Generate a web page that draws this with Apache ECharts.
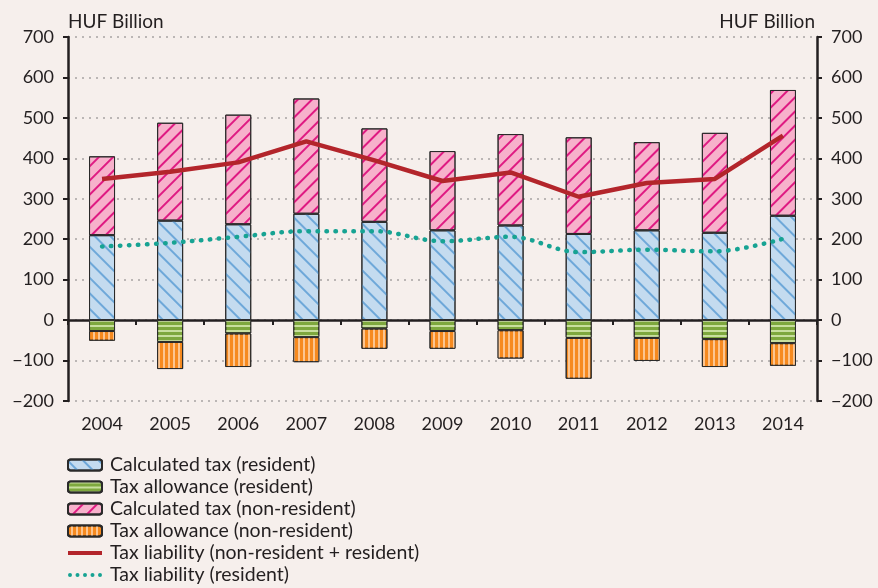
<!DOCTYPE html>
<html>
<head>
<meta charset="utf-8">
<script src="https://cdn.jsdelivr.net/npm/echarts@6/dist/echarts.min.js"></script>
<style>
  html, body { margin: 0; padding: 0; background: #f6efec; }
  #chart { width: 878px; height: 588px; }
</style>
</head>
<body>
<div id="chart"></div>
<script>
var years = ['2004', '2005', '2006', '2007', '2008', '2009', '2010', '2011', '2012', '2013', '2014'];
var calcResident = [210, 246, 237, 263, 243, 222, 234, 213, 222, 216, 258];
var allowResident = [-27, -54, -33, -42, -21, -27, -25, -44, -44, -47, -57];
var calcNonResident = [195, 242, 271, 285, 231, 196, 226, 239, 218, 247, 311];
var allowNonResident = [-24, -67, -83, -62, -50, -44, -70, -101, -57, -69, -56];
var liabilityTotal = [349, 367, 390, 442, 395, 344, 365, 305, 339, 349, 456];
var liabilityResident = [182, 191, 206, 220, 220, 195, 206, 168, 174, 170, 201];

var font = 'Lato';
var ink = '#231f20';

function minus(v) {
  return String(v).replace('-', '\u2212');
}

// legend icons for the two lines: a solid bar and a row of dots
var solidIcon = 'path://M0,0 L34,0 L34,4 L0,4 Z';
var dotIcon = 'path://M0,2 a2,2 0 1,0 4,0 a2,2 0 1,0 -4,0 Z' +
  'M7.5,2 a2,2 0 1,0 4,0 a2,2 0 1,0 -4,0 Z' +
  'M15,2 a2,2 0 1,0 4,0 a2,2 0 1,0 -4,0 Z' +
  'M22.5,2 a2,2 0 1,0 4,0 a2,2 0 1,0 -4,0 Z' +
  'M30,2 a2,2 0 1,0 4,0 a2,2 0 1,0 -4,0 Z';

var chart = echarts.init(document.getElementById('chart'));

var barBorder = { borderColor: '#2a2a2a', borderWidth: 1 };

var option = {
  backgroundColor: '#f6efec',
  textStyle: { fontFamily: font, color: ink },
  title: [
    { text: 'HUF Billion', left: 63, top: 7, textStyle: { fontFamily: font, fontSize: 19, fontWeight: 'normal', color: ink } },
    { text: 'HUF Billion', right: 58, top: 7, textStyle: { fontFamily: font, fontSize: 19, fontWeight: 'normal', color: ink } }
  ],
  grid: { left: 68, right: 61, top: 37, bottom: 187 },
  legend: {
    orient: 'vertical',
    left: 67,
    top: 455,
    padding: 0,
    itemWidth: 34,
    itemHeight: 11,
    itemGap: 2,
    textStyle: { fontFamily: font, fontSize: 19.5, lineHeight: 20, color: ink, padding: [0, 0, 0, 3] },
    data: [
      'Calculated tax (resident)',
      'Tax allowance (resident)',
      'Calculated tax (non-resident)',
      'Tax allowance (non-resident)',
      { name: 'Tax liability (non-resident + resident)', icon: solidIcon },
      { name: 'Tax liability (resident)', icon: dotIcon }
    ]
  },
  xAxis: [
    {
      type: 'category',
      data: years,
      position: 'bottom',
      axisLine: { onZero: true, lineStyle: { color: ink, width: 2.5 } },
      axisTick: { show: true, length: 5, lineStyle: { color: ink, width: 2 } },
      axisLabel: { show: false }
    },
    {
      type: 'category',
      data: years,
      position: 'bottom',
      axisLine: { show: false, onZero: false },
      axisTick: { show: false },
      axisLabel: { margin: 14, fontFamily: font, fontSize: 18, color: ink }
    }
  ],
  yAxis: [
    {
      type: 'value',
      min: -200, max: 700, interval: 100,
      axisLine: { show: true, lineStyle: { color: ink, width: 2.5 } },
      axisTick: { show: true, length: 5, lineStyle: { color: ink, width: 2 } },
      axisLabel: { margin: 14, fontFamily: font, fontSize: 18, color: ink, formatter: minus },
      splitLine: { show: true, lineStyle: { color: '#a8a4a2', width: 1.5, type: [2, 5] } }
    },
    {
      type: 'value',
      position: 'right',
      min: -200, max: 700, interval: 100,
      axisLine: { show: true, lineStyle: { color: ink, width: 2.5 } },
      axisTick: { show: true, length: 5, lineStyle: { color: ink, width: 2 } },
      axisLabel: { margin: 14, fontFamily: font, fontSize: 18, color: ink, formatter: minus },
      splitLine: { show: false }
    }
  ],
  series: [
    {
      name: 'Calculated tax (resident)',
      type: 'bar', stack: 'tax', barWidth: 26,
      itemStyle: Object.assign({
        color: '#c4dbef',
        decal: { symbol: 'rect', symbolSize: 1, dashArrayX: [1, 0], dashArrayY: [1.5, 8.5], rotation: Math.PI / 4, color: '#6ea8d9' }
      }, barBorder),
      data: calcResident
    },
    {
      name: 'Tax allowance (resident)',
      type: 'bar', stack: 'tax', barWidth: 26,
      itemStyle: Object.assign({
        color: '#7ea83e',
        decal: { symbol: 'rect', symbolSize: 1, dashArrayX: [1, 0], dashArrayY: [2, 2.5], color: '#c8df9e' }
      }, barBorder),
      data: allowResident
    },
    {
      name: 'Calculated tax (non-resident)',
      type: 'bar', stack: 'tax', barWidth: 26,
      itemStyle: Object.assign({
        color: '#f7b1cb',
        decal: { symbol: 'rect', symbolSize: 1, dashArrayX: [1, 0], dashArrayY: [1.8, 7.5], rotation: -Math.PI / 4, color: '#df1a82' }
      }, barBorder),
      data: calcNonResident
    },
    {
      name: 'Tax allowance (non-resident)',
      type: 'bar', stack: 'tax', barWidth: 26,
      itemStyle: Object.assign({
        color: '#f68a1f',
        decal: { symbol: 'rect', symbolSize: 1, dashArrayX: [1, 0], dashArrayY: [1.5, 2.5], rotation: Math.PI / 2, color: '#fcc590' }
      }, barBorder),
      data: allowNonResident
    },
    {
      name: 'Tax liability (non-resident + resident)',
      type: 'line',
      symbol: 'none',
      lineStyle: { color: '#b3252b', width: 4.5 },
      itemStyle: { color: '#b3252b' },
      z: 5,
      data: liabilityTotal
    },
    {
      name: 'Tax liability (resident)',
      type: 'line',
      symbol: 'none',
      smooth: 0.35,
      lineStyle: { color: '#17a393', width: 4.5, type: [0.5, 8.5], cap: 'round' },
      itemStyle: { color: '#17a393' },
      z: 5,
      data: liabilityResident
    }
  ]
};

chart.setOption(option);
</script>
</body>
</html>
